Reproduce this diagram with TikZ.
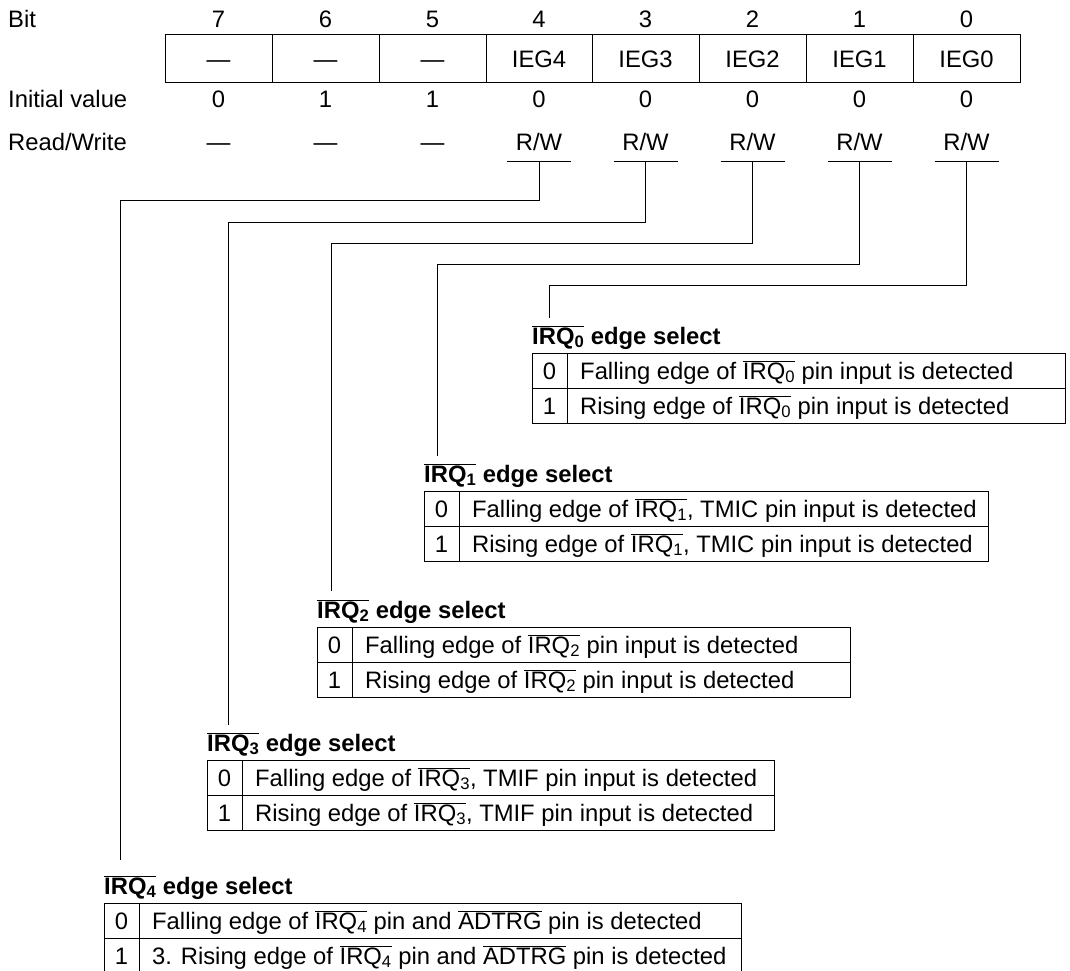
\documentclass[tikz,border=0pt]{standalone}
\usepackage{fontspec}
\setmainfont{Liberation Sans}
\usetikzlibrary{positioning,calc}
\tikzset{>=latex}

\newcommand\irq[1]{$\overline{\mbox{IRQ\textsubscript{#1}}}$}
\newcommand\adtrg{$\overline{\mbox{ADTRG}}$}

\tikzset{
  txt/.style={inner sep=0pt, anchor=base west},
  num/.style={inner sep=0pt, anchor=base},
  hdr/.style={inner sep=0pt, anchor=base west,
    font=\fontsize{23.8}{28}\selectfont\bfseries},
  cell/.style={draw, line width=1pt, inner sep=0pt, minimum height=48pt,
    text height=17pt, text depth=0pt},
  tbl/.style={line width=1pt},
  wire/.style={line width=1pt},
}

% select table: bit, left, top, right, wire end x, wire end y, row 0, row 1
\newcommand\edgetable[8]{%
  \node[hdr] (hd#1) at (#2,#3-9) {\irq{#1} edge select};
  \coordinate (t#1) at (#5,#6);
  \draw[tbl] (#2,#3) rectangle (#4,#3+70);
  \draw[tbl] (#2,#3+35) -- (#4,#3+35);
  \draw[tbl] (#2+35,#3) -- (#2+35,#3+70);
  \node[num] (v#1a) at (#2+17.5,#3+26) {0};
  \node[txt] (r#1a) at (#2+48,#3+26) {#7};
  \node[num] (v#1b) at (#2+17.5,#3+61) {1};
  \node[txt] (r#1b) at (#2+48,#3+61) {#8};
}

\begin{document}
\begin{tikzpicture}[x=1pt, y=-1pt, font=\fontsize{23.8}{28}\selectfont]
  \useasboundingbox (0,0) rectangle (1070,971);

  % register layout
  \node[txt] (bitlbl) at (8,27.5) {Bit};
  \node[txt] (initlbl) at (8,107) {Initial value};
  \node[txt] (rwlbl) at (8,150) {Read/Write};
  \foreach \b/\xl/\xr/\name/\ini/\rw in {%
      7/165/272/\textemdash/0/\textemdash,
      6/272/379/\textemdash/1/\textemdash,
      5/379/486/\textemdash/1/\textemdash,
      4/486/592/IEG4/0/{R/W},
      3/592/699/IEG3/0/{R/W},
      2/699/806/IEG2/0/{R/W},
      1/806/913/IEG1/0/{R/W},
      0/913/1020/IEG0/0/{R/W}} {
    \pgfmathsetmacro\xc{(\xl+\xr)/2}
    \node[num] (bit\b) at (\xc,27.5) {\b};
    \node[cell, minimum width=\xr-\xl] (reg\b) at (\xc,59) {\name};
    \node[num] (init\b) at (\xc,107) {\ini};
    \node[num] (rw\b) at (\xc,150) {\rw};
    \ifnum\b<5
      \coordinate (u\b) at (\xc,161);
      \draw[wire] ([xshift=-32pt]u\b) -- ([xshift=32pt]u\b);
    \fi
  }

  % edge select tables
  \edgetable{0}{532}{353}{1065}{549}{318}
    {Falling edge of \irq{0} pin input is detected}
    {Rising edge of \irq{0} pin input is detected}
  \edgetable{1}{424}{491}{988}{437}{456}
    {Falling edge of \irq{1}, TMIC pin input is detected}
    {Rising edge of \irq{1}, TMIC pin input is detected}
  \edgetable{2}{317}{627}{850}{331}{591}
    {Falling edge of \irq{2} pin input is detected}
    {Rising edge of \irq{2} pin input is detected}
  \edgetable{3}{207}{760}{774}{228}{725}
    {Falling edge of \irq{3}, TMIF pin input is detected}
    {Rising edge of \irq{3}, TMIF pin input is detected}
  \edgetable{4}{104}{903}{741}{120}{860}
    {Falling edge of \irq{4} pin and \adtrg{} pin is detected}
    {3. Rising edge of \irq{4} pin and \adtrg{} pin is detected}

  % bits to tables
  \draw[wire] (u0) -- ++(0,124) -| (t0);
  \draw[wire] (u1) -- ++(0,103) -| (t1);
  \draw[wire] (u2) -- ++(0,82) -| (t2);
  \draw[wire] (u3) -- ++(0,61) -| (t3);
  \draw[wire] (u4) -- ++(0,39) -| (t4);
\end{tikzpicture}
\end{document}
